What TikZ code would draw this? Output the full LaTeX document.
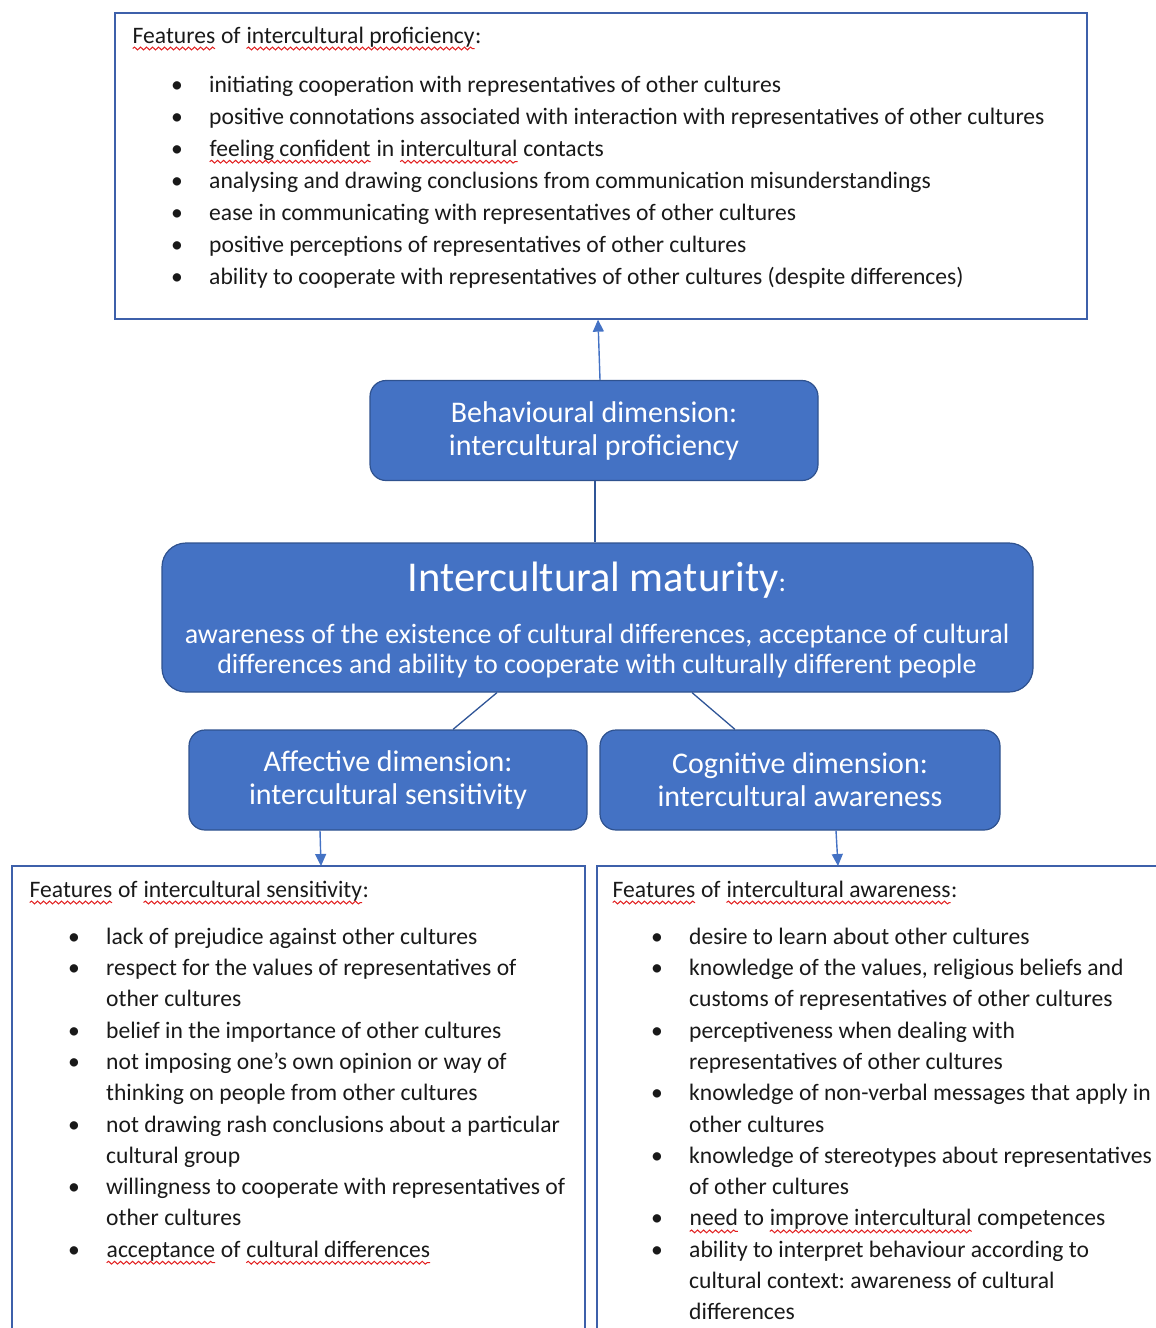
\documentclass[tikz,border=0pt]{standalone}
\usepackage{fontspec}
\setmainfont{Carlito}
\usetikzlibrary{arrows.meta,decorations.pathmorphing}
\frenchspacing
\definecolor{dimfill}{RGB}{68,114,196}
\definecolor{dimedge}{RGB}{47,82,143}
\definecolor{frameblue}{RGB}{61,96,170}
\definecolor{linkblue}{RGB}{47,85,151}
\definecolor{txt}{RGB}{25,25,25}
\definecolor{spellred}{RGB}{225,30,30}
\newcommand\sq[1]{\tikz[baseline=0pt]{\node[inner sep=0pt,outer sep=0pt,anchor=base west,text=txt] (sqw) at (0,0) {#1};
  \draw[spellred,line width=1pt,decorate,decoration={snake,segment length=6pt,amplitude=1.4pt}] ([yshift=-5.5pt]sqw.base west) -- ([yshift=-5.5pt]sqw.base east);}}
\newcommand\bl{\makebox[38pt][l]{•}}
\newcommand\ind{\hspace*{38pt}}
\newcommand\fl{\rule{0pt}{22pt}}
\tikzset{
  x=1pt,y=-1pt,
  framebox/.style={draw=frameblue,line width=1.3pt},
  dimbox/.style={draw=dimedge,line width=1.2pt,fill=dimfill,rounded corners=16pt,text=white,align=center,
    font=\fontsize{30}{33}\selectfont,inner sep=0pt},
  bodytext/.style={text=txt,align=left,inner sep=0pt,anchor=base west,font=\fontsize{23.6}{31.3}\selectfont},
  listtext/.style={bodytext,anchor=north west},
  toplist/.style={listtext,font=\fontsize{23.6}{32}\selectfont},
  whitetext/.style={text=white,inner sep=0pt,anchor=base,align=center},
  link/.style={draw=linkblue,line width=1.3pt},
  uparrow/.style={draw=dimfill,line width=1.4pt,-{Triangle[length=12pt,width=11pt]}},
}
\begin{document}
\begin{tikzpicture}
\useasboundingbox (0,0) rectangle (1156,1328);
% top features box
\node[framebox,minimum width=972pt,minimum height=306pt,inner sep=0pt] (topbox) at (601,166) {};
\node[bodytext] (tophead) at (132,43) {\sq{Features} of \sq{intercultural proficiency}:};
\node[toplist] (toplist) at (171,70) {\fl\bl initiating cooperation with representatives of other cultures\\
\bl positive connotations associated with interaction with representatives of other cultures\\
\bl \sq{feeling confident} in \sq{intercultural} contacts\\
\bl analysing and drawing conclusions from communication misunderstandings\\
\bl ease in communicating with representatives of other cultures\\
\bl positive perceptions of representatives of other cultures\\
\bl ability to cooperate with representatives of other cultures (despite differences)};
% behavioural
\node[dimbox,minimum width=448pt,minimum height=100pt] (beh) at (594,430.5) {Behavioural dimension:\\intercultural proficiency};
% maturity
\node[dimbox,rounded corners=24pt,minimum width=871pt,minimum height=149pt] (mat) at (597.5,617.5) {};
\node[whitetext,font=\fontsize{42.5}{44}\selectfont] (mattitle) at (597,591) {Intercultural maturity{\fontsize{28}{30}\selectfont:}};
\node[whitetext,font=\fontsize{28}{30}\selectfont] (matsub) at (597,673) {awareness of the existence of cultural differences, acceptance of cultural\\differences and ability to cooperate with culturally different people};
% affective / cognitive
\node[dimbox,minimum width=398pt,minimum height=100pt] (aff) at (388,780) {Affective dimension:\\intercultural sensitivity};
\node[dimbox,minimum width=400pt,minimum height=100pt] (cog) at (800,780) {Cognitive dimension:\\intercultural awareness};
% lower boxes
\coordinate (lbTL) at (12,866);
\coordinate (lbTR) at (585,866);
\coordinate (rbTL) at (597,866);
\draw[framebox] (12,1332) -- (lbTL) -- (lbTR) -- (585,1332);
\draw[framebox] (597,1332) -- (rbTL) -- (1160,866);
\node[bodytext] (lefthead) at (29,897) {\sq{Features} of \sq{intercultural sensitivity}:};
\node[listtext] (leftlist) at (68,922) {\fl\bl lack of prejudice against other cultures\\
\bl respect for the values of representatives of\\
\ind other cultures\\
\bl belief in the importance of other cultures\\
\bl not imposing one’s own opinion or way of\\
\ind thinking on people from other cultures\\
\bl not drawing rash conclusions about a particular\\
\ind cultural group\\
\bl willingness to cooperate with representatives of\\
\ind other cultures\\
\bl \sq{acceptance} of \sq{cultural differences}};
\node[bodytext] (righthead) at (612,897) {\sq{Features} of \sq{intercultural awareness}:};
\node[listtext] (rightlist) at (651,922) {\fl\bl desire to learn about other cultures\\
\bl knowledge of the values, religious beliefs and\\
\ind customs of representatives of other cultures\\
\bl perceptiveness when dealing with\\
\ind representatives of other cultures\\
\bl knowledge of non-verbal messages that apply in\\
\ind other cultures\\
\bl knowledge of stereotypes about representatives\\
\ind of other cultures\\
\bl \sq{need} to \sq{improve intercultural} competences\\
\bl ability to interpret behaviour according to\\
\ind cultural context: awareness of cultural\\
\ind differences};
% connectors
\draw[uparrow] (beh.north -| 600,0) -- (topbox.south -| 598,0);
\draw[link] (beh.south -| 595,0) -- (mat.north -| 595,0);
\draw[link] (mat.south -| 497,0) -- (aff.north -| 453,0);
\draw[link] (mat.south -| 692,0) -- (cog.north -| 735,0);
\draw[uparrow] (aff.south -| 320,0) -- (lbTL -| 321,0);
\draw[uparrow] (cog.south -| 836,0) -- (rbTL -| 838,0);
\end{tikzpicture}
\end{document}
